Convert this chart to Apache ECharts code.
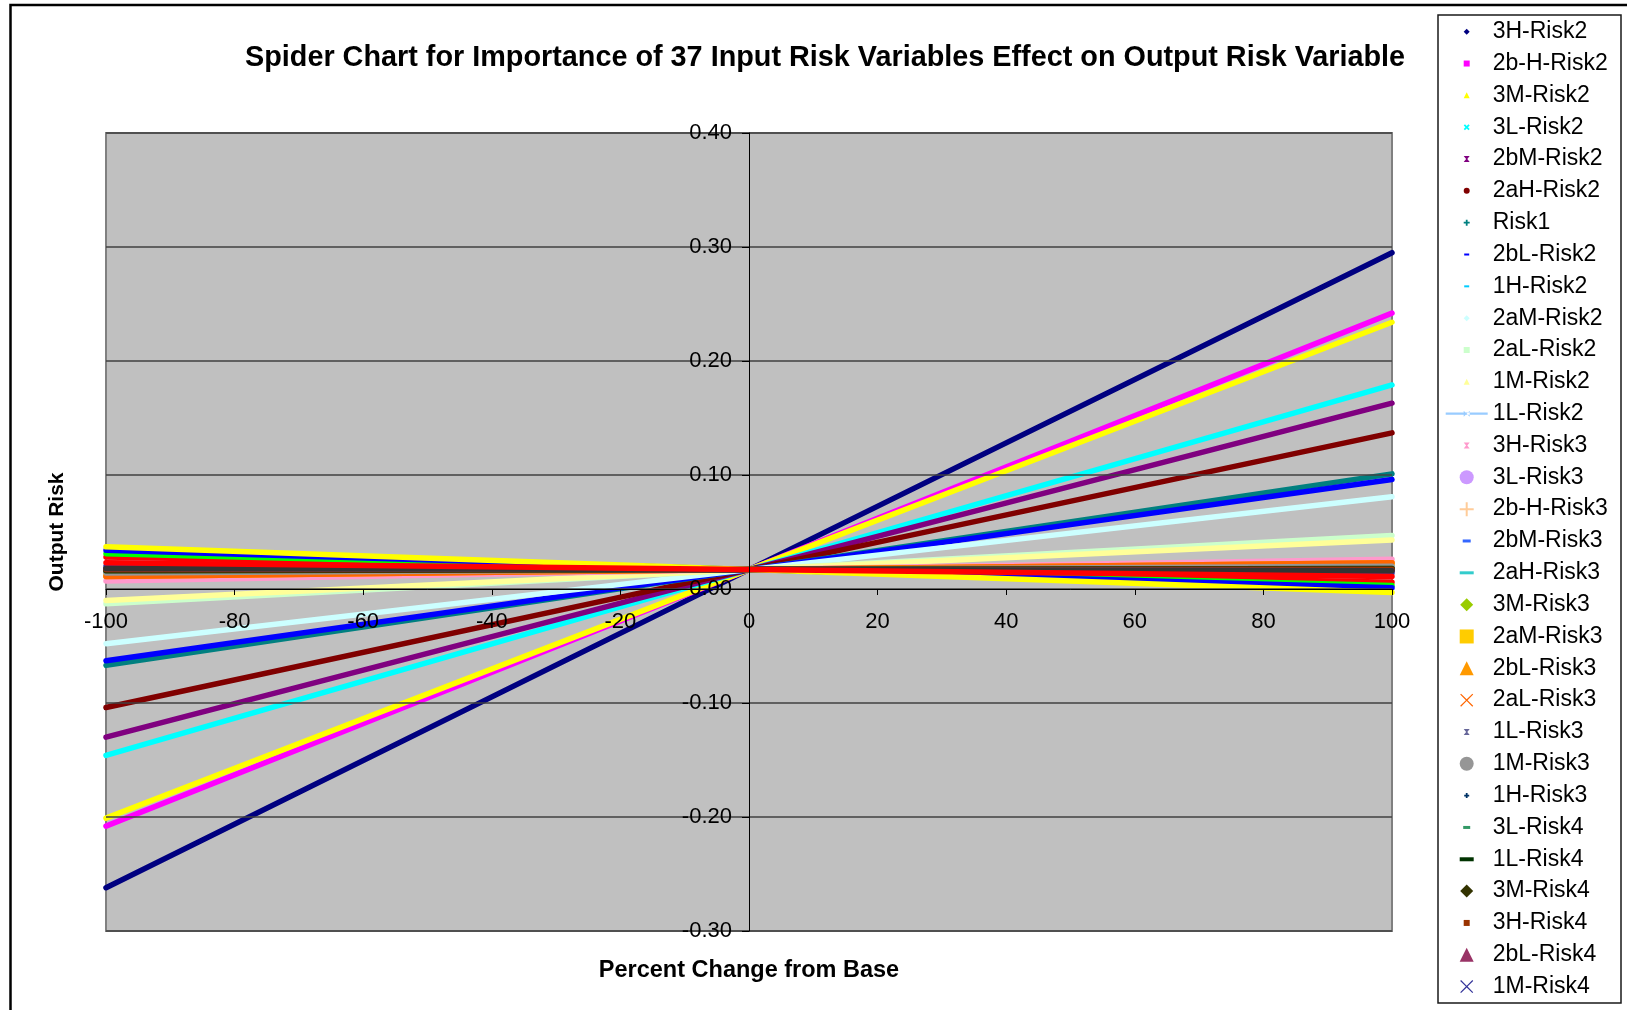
<!DOCTYPE html>
<html>
<head>
<meta charset="utf-8">
<title>Spider Chart - Output Risk</title>
<script src="https://cdn.jsdelivr.net/npm/echarts@6/dist/echarts.min.js"></script>
<style>
  html, body { margin: 0; padding: 0; background: #ffffff; }
  #chart { width: 1627px; height: 1010px; }
</style>
</head>
<body>
<div id="chart"></div>
<script>
// ---- data -------------------------------------------------------------
// Percent change from base applied to each input risk variable
const percentChange = [-100, 0, 100];

// Output risk when every input is at its base value
const baseOutputRisk = 0.017;

// Input risk variables (series order)
const variableNames = [
  '3H-Risk2', '2b-H-Risk2', '3M-Risk2', '3L-Risk2', '2bM-Risk2', '2aH-Risk2',
  'Risk1', '2bL-Risk2', '1H-Risk2', '2aM-Risk2', '2aL-Risk2', '1M-Risk2',
  '1L-Risk2', '3H-Risk3', '3L-Risk3', '2b-H-Risk3', '2bM-Risk3', '2aH-Risk3',
  '3M-Risk3', '2aM-Risk3', '2bL-Risk3', '2aL-Risk3', '1L-Risk3', '1M-Risk3',
  '1H-Risk3', '3L-Risk4', '1L-Risk4', '3M-Risk4', '3H-Risk4', '2bL-Risk4',
  '1M-Risk4', '2aM-Risk4', '2aH-Risk4', '2bM-Risk4', '2b-H-Risk4', '1H-Risk4',
  '2aL-Risk4'
];

// Output risk at -100 % change
const riskAtMinus100 = [
  -0.262, -0.208, -0.201, -0.146, -0.130, -0.104,
  -0.067, -0.063,  0.015, -0.048, -0.013, -0.010,
   0.016,  0.007,  0.015,  0.013,  0.016,  0.016,
   0.017,  0.012,  0.011,  0.011,  0.016,  0.014,
   0.017,  0.016,  0.017,  0.016,  0.017,  0.018,
   0.020,  0.018,  0.028,  0.031,  0.034,  0.037,
   0.023
];

// Output risk at +100 % change
const riskAtPlus100 = [
   0.295,  0.242,  0.234,  0.179,  0.163,  0.137,
   0.101,  0.096,  0.019,  0.081,  0.047,  0.043,
   0.018,  0.026,  0.019,  0.021,  0.018,  0.018,
   0.017,  0.022,  0.023,  0.023,  0.018,  0.020,
   0.017,  0.018,  0.017,  0.018,  0.017,  0.016,
   0.014,  0.016,  0.006,  0.003,  0.001, -0.003,
   0.011
];

// Axis ticks
const xTicks = { min: -100, max: 100, step: 20 };
const yTicks = { min: -0.3, max: 0.4, step: 0.1 };

// Only the first 31 variables fit in the legend box
const legendCount = 31;

// ---- styling ----------------------------------------------------------
const lineColors = [
  '#000080', '#FF00FF', '#FFFF00', '#00FFFF', '#800080', '#800000',
  '#008080', '#0000FF', '#00CCFF', '#CCFFFF', '#CCFFCC', '#FFFF99',
  '#99CCFF', '#FF99CC', '#CC99FF', '#FFCC99', '#3366FF', '#33CCCC',
  '#99CC00', '#FFCC00', '#FF9900', '#FF6600', '#666699', '#969696',
  '#003366', '#339966', '#003300', '#333300', '#993300', '#993366',
  '#333399', '#333333', '#FF0000', '#00FF00', '#0000FF', '#FFFF00',
  '#FF0000'
];

// Legend marker shapes in pixel units: [path, width, height]
function diamond(s) { const h = s / 2; return [`M${h} 0L${s} ${h}L${h} ${s}L0 ${h}Z`, s, s]; }
function square(s) { return [`M0 0H${s}V${s}H0Z`, s, s]; }
function triangle(s) { return [`M${s / 2} 0L${s} ${s}H0Z`, s, s]; }
function circle(s) { const r = s / 2; return [`M0 ${r}A${r} ${r} 0 1 1 ${s} ${r}A${r} ${r} 0 1 1 0 ${r}Z`, s, s]; }
function cross(s, t) {
  const a = t / 1.414, m = s / 2;
  return [`M0 ${a}L${a} 0L${m} ${m - a}L${s - a} 0L${s} ${a}L${m + a} ${m}L${s} ${s - a}L${s - a} ${s}L${m} ${m + a}L${a} ${s}L0 ${s - a}L${m - a} ${m}Z`, s, s];
}
function plus(s, t) {
  const a = (s - t) / 2, b = (s + t) / 2;
  return [`M${a} 0H${b}V${a}H${s}V${b}H${b}V${s}H${a}V${b}H0V${a}H${a}Z`, s, s];
}
function hourglass(s) { const a = s * 0.4, b = s * 0.6; return [`M0 0H${s}L${b} ${s / 2}L${s} ${s}H0L${a} ${s / 2}Z`, s, s]; }
function dash(w, h) { return [`M0 0H${w}V${h}H0Z`, w, h]; }
function lineWithMarker(w, s) {
  const c = w / 2, m = s / 2;
  return [`M0 ${m - 1.2}H${w}V${m + 1.2}H0Z M${c - m} 0L${c + m} ${s}V0L${c - m} ${s}Z`, w, s];
}

const legendMarkers = [
  diamond(6), square(6), triangle(6), cross(6, 1.8),
  hourglass(6), circle(6), plus(6, 1.8), dash(5, 2),
  dash(5, 2), diamond(6), square(6), triangle(6),
  lineWithMarker(42, 6), hourglass(6), circle(14), plus(14, 2),
  dash(8, 3), dash(14, 3), diamond(13), square(14),
  triangle(14), cross(13, 1.2), hourglass(6), circle(14),
  plus(5, 1.8), dash(7, 3), dash(14, 4), diamond(13),
  square(6), triangle(14), cross(13, 1.2)
];

const fontFamily = '"Liberation Sans", Arial, Helvetica, sans-serif';
const legendIconLeft = 1445.7;
const legendIconWidth = 42;
const legendFirstY = 31.7;
const legendStep = 31.83;

// Plot rectangle (pixels) and where the zero lines sit inside it
const plot = { left: 106, right: 235, top: 133, bottom: 79 };
const plotWidth = 1627 - plot.left - plot.right;
const plotHeight = 1010 - plot.top - plot.bottom;
// The axes cross at x = 0 and y = 0, so shift them in from the plot edges
const yAxisShift = plotWidth * (0 - xTicks.min) / (xTicks.max - xTicks.min);
const xAxisShift = plotHeight * (0 - yTicks.min) / (yTicks.max - yTicks.min);

// ---- chart ------------------------------------------------------------
const chart = echarts.init(document.getElementById('chart'), null, { renderer: 'canvas' });

const series = variableNames.map((name, i) => ({
  name: name,
  type: 'line',
  z: 1,
  data: percentChange.map((x, k) => [x, [riskAtMinus100[i], baseOutputRisk, riskAtPlus100[i]][k]]),
  showSymbol: false,
  symbol: 'none',
  color: lineColors[i],
  lineStyle: { width: 5.5, color: lineColors[i], cap: 'round' },
  emphasis: { disabled: true },
  silent: true,
  animation: false
}));

// One legend box per entry so each marker keeps its own size
const legends = variableNames.slice(0, legendCount).map((name, i) => {
  const [path, w, h] = legendMarkers[i];
  return {
    data: [{ name: name, icon: 'path://' + path }],
    left: legendIconLeft + (legendIconWidth - w) / 2,
    top: legendFirstY + i * legendStep - 15,
    orient: 'vertical',
    itemWidth: legendIconWidth,
    itemHeight: h,
    padding: 0,
    itemGap: 0,
    selectedMode: false,
    textStyle: { fontFamily: fontFamily, fontSize: 23, lineHeight: 30, color: '#000000' }
  };
});

chart.setOption({
  animation: false,
  backgroundColor: '#ffffff',
  title: {
    text: 'Spider Chart for Importance of 37 Input Risk Variables Effect on Output Risk Variable',
    left: 245,
    top: 44,
    padding: 0,
    textStyle: { fontFamily: fontFamily, fontSize: 28.8, fontWeight: 'bold', color: '#000000' }
  },
  legend: legends,
  grid: {
    left: plot.left, right: plot.right, top: plot.top, bottom: plot.bottom,
    containLabel: false,
    outerBoundsMode: 'none',
    show: true,
    z: 0,
    backgroundColor: '#C0C0C0',
    borderColor: '#808080',
    borderWidth: 2
  },
  xAxis: {
    type: 'value',
    position: 'bottom',
    offset: -xAxisShift,
    z: 5,
    min: xTicks.min, max: xTicks.max, interval: xTicks.step,
    name: 'Percent Change from Base',
    nameLocation: 'middle',
    nameGap: 370,
    nameMoveOverlap: false,
    nameTextStyle: { fontFamily: fontFamily, fontSize: 23.5, fontWeight: 'bold', color: '#000000' },
    axisLine: { onZero: false, lineStyle: { color: '#000000', width: 1 } },
    axisTick: { show: true, inside: false, length: 6, lineStyle: { color: '#000000' } },
    axisLabel: { margin: 22, fontFamily: fontFamily, fontSize: 22, color: '#000000' },
    splitLine: { show: false }
  },
  yAxis: {
    type: 'value',
    position: 'left',
    offset: -yAxisShift,
    z: 5,
    min: yTicks.min, max: yTicks.max, interval: yTicks.step,
    name: 'Output Risk',
    nameLocation: 'middle',
    nameRotate: 90,
    nameGap: 681,
    nameMoveOverlap: false,
    nameTextStyle: { fontFamily: fontFamily, fontSize: 21, fontWeight: 'bold', color: '#000000' },
    axisLine: { onZero: false, lineStyle: { color: '#000000', width: 1 } },
    axisTick: { show: true, inside: false, length: 7, lineStyle: { color: '#000000' } },
    axisLabel: {
      margin: 17, fontFamily: fontFamily, fontSize: 22, color: '#000000',
      formatter: v => v.toFixed(2)
    },
    splitLine: { show: true, lineStyle: { color: '#404040', width: 1.5 } }
  },
  graphic: [
    {
      type: 'polyline',
      shape: { points: [[10.5, 1012], [10.5, 5], [1630, 5]] },
      style: { stroke: '#000000', lineWidth: 2.5, fill: null },
      silent: true
    },
    {
      type: 'rect',
      shape: { x: 1438, y: 15, width: 183, height: 988 },
      style: { stroke: '#1a1a1a', lineWidth: 1.5, fill: null },
      silent: true,
      z: -1
    }
  ],
  series: series
});
</script>
</body>
</html>
